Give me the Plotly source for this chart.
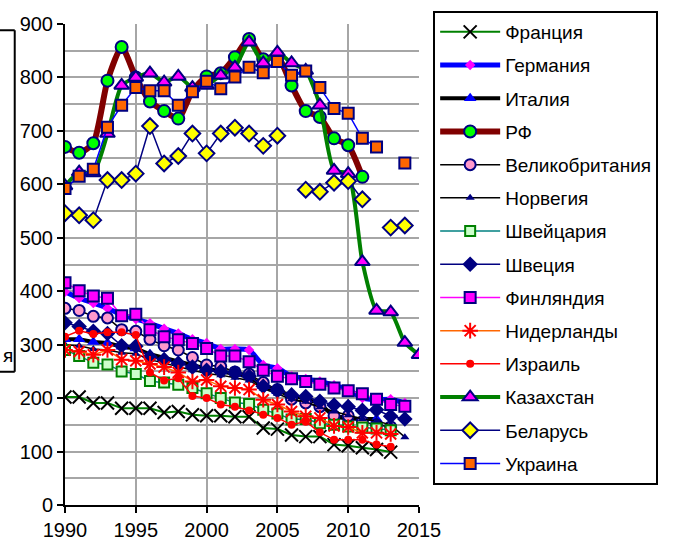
import plotly.graph_objects as go

years = list(range(1990, 2016))
N = None

france = [202,202,191,191,181,181,181,173,175,169,167,167,165,165,144,142,131,128,128,113,111,107,104,99,N,N]
germany = [399,387,378,368,356,348,340,330,321,310,303,292,292,290,262,256,241,236,231,224,216,200,197,198,191,N]
italy = [310,310,305,303,296,293,282,275,268,262,255,250,245,240,222,213,205,198,190,165,162,161,161,N,N,N]
russia = [670,659,677,794,857,800,755,737,723,775,802,808,838,872,834,840,785,737,726,686,673,614,N,N,N,N]
britain = [368,364,353,350,328,325,310,298,290,276,262,259,249,245,229,216,198,191,184,167,167,156,150,146,N,N]
norway = [300,298,292,290,285,283,272,265,258,252,246,243,238,233,218,208,198,193,183,175,168,161,157,150,127,N]
switzerland = [290,279,266,263,250,245,232,229,225,219,209,200,192,189,178,171,160,161,153,150,147,145,143,140,N,N]
sweden = [341,334,325,321,298,297,277,272,265,258,252,250,247,241,222,214,206,203,194,187,184,177,178,166,161,N]
finland = [416,401,391,387,354,357,328,315,309,302,293,279,279,268,252,241,236,231,226,219,214,208,198,188,185,N]
netherlands = [290,287,281,290,272,270,264,258,248,231,234,222,219,216,197,188,175,166,163,148,146,135,135,133,N,N]
israel = [315,326,320,323,323,318,248,233,237,204,200,188,184,177,169,163,150,156,136,122,122,122,113,109,N,N]
kazakhstan = [597,623,621,695,785,800,808,791,802,781,785,804,819,866,827,847,827,813,748,626,620,455,364,361,304,281]
belarus = [546,542,533,608,608,620,709,639,653,695,658,695,706,695,672,691,N,590,586,603,606,572,N,519,523,N]
ukraine = [592,615,628,707,748,781,775,775,748,773,793,779,801,819,809,830,804,812,781,742,733,686,670,N,640,N]

NAVY = "#000080"
series = [
    ("Франция", france, dict(color="#008000", width=2), dict(symbol="x-thin", size=13, line=dict(color="black", width=2), color="black"), "linear"),
    ("Германия", germany, dict(color="#0000FF", width=5), dict(symbol="diamond", size=8, color="#FF00FF", line=dict(width=0)), "spline"),
    ("Италия", italy, dict(color="black", width=4), dict(symbol="triangle-up", size=11, color="#0000FF", line=dict(width=0)), "linear"),
    ("РФ", russia, dict(color="#800000", width=6), dict(symbol="circle", size=12, color="#00FF00", line=dict(color=NAVY, width=2)), "spline"),
    ("Великобритания", britain, dict(color="black", width=1.5), dict(symbol="circle", size=11, color="#FF99CC", line=dict(color=NAVY, width=2)), "linear"),
    ("Норвегия", norway, dict(color="black", width=1.5), dict(symbol="triangle-up", size=8, color=NAVY, line=dict(width=0)), "linear"),
    ("Швейцария", switzerland, dict(color="#008080", width=1.5), dict(symbol="square", size=10, color="#CCFFCC", line=dict(color="#008000", width=2)), "linear"),
    ("Швеция", sweden, dict(color=NAVY, width=1.5), dict(symbol="diamond", size=12, color=NAVY, line=dict(width=0)), "linear"),
    ("Финляндия", finland, dict(color="#FF00FF", width=1.5), dict(symbol="square", size=11, color="#FF00FF", line=dict(color=NAVY, width=2)), "linear"),
    ("Нидерланды", netherlands, dict(color="#FF6600", width=1.5), dict(symbol="asterisk-open", size=13, color="#FF0000", line=dict(color="#FF0000", width=2)), "linear"),
    ("Израиль", israel, dict(color="#FF0000", width=1.5), dict(symbol="circle", size=8, color="#FF0000", line=dict(width=0)), "linear"),
    ("Казахстан", kazakhstan, dict(color="#008000", width=4), dict(symbol="triangle-up", size=13, color="#FF00FF", line=dict(color=NAVY, width=2)), "spline"),
    ("Беларусь", belarus, dict(color=NAVY, width=1.5), dict(symbol="diamond", size=12, color="#FFFF00", line=dict(color=NAVY, width=2)), "linear"),
    ("Украина", ukraine, dict(color="#0000FF", width=1.5), dict(symbol="square", size=11, color="#FF6600", line=dict(color=NAVY, width=2)), "linear"),
]

fig = go.Figure()
for i, (name, vals, line, marker, shape) in enumerate(series):
    line = dict(line)
    line["shape"] = shape
    if shape == "spline":
        line["smoothing"] = 0.6
    fig.add_trace(go.Scatter(x=years, y=vals, name=name, mode="lines+markers",
                             line=line, marker=marker, legendgroup=f"g{i}"))

FONT = "Liberation Sans, Arial, sans-serif"
fig.update_layout(
    width=674, height=540,
    margin=dict(l=65, r=255, t=24, b=35, autoexpand=False),
    paper_bgcolor="white", plot_bgcolor="white",
    font=dict(family=FONT, size=20, color="black"),
    showlegend=True,
    legend=dict(x=1.04, y=1.027, xanchor="left", yanchor="top",
                bordercolor="black", borderwidth=2, bgcolor="white",
                font=dict(family=FONT, size=19, color="black"),
                tracegroupgap=5.5, itemwidth=60, maxheight=500),
    xaxis=dict(range=[1990, 2015], dtick=5, tick0=1990, showgrid=True, automargin=False,
               gridcolor="#A6A6A6", gridwidth=2, showline=True, linecolor="black",
               linewidth=2, ticks="outside", ticklen=6, tickcolor="black",
               tickwidth=2, zeroline=False, tickfont=dict(size=20)),
    yaxis=dict(range=[0, 900], dtick=100, showgrid=True, gridcolor="#A6A6A6", automargin=False,
               gridwidth=2, showline=True, linecolor="black", linewidth=2,
               ticks="outside", ticklen=6, tickcolor="black", tickwidth=2,
               zeroline=False, tickfont=dict(size=20),
               minor=dict(dtick=50, showgrid=True, gridcolor="#A6A6A6", gridwidth=2)),
    shapes=[
        dict(type="line", xref="paper", yref="paper", x0=-0.2, x1=-0.142, y0=0.987, y1=0.987,
             line=dict(color="black", width=2)),
        dict(type="line", xref="paper", yref="paper", x0=-0.142, x1=-0.142, y0=0.987, y1=0.277,
             line=dict(color="black", width=2)),
        dict(type="line", xref="paper", yref="paper", x0=-0.2, x1=-0.142, y0=0.277, y1=0.277,
             line=dict(color="black", width=2)),
    ],
    annotations=[
        dict(text="я", xref="paper", yref="paper", x=-0.180, y=0.31, xanchor="left",
             yanchor="middle", showarrow=False, font=dict(size=19, family=FONT)),
    ],
)
fig.write_html("out.html", config={"displayModeBar": False},
               post_script="document.body.style.margin='0px';")
